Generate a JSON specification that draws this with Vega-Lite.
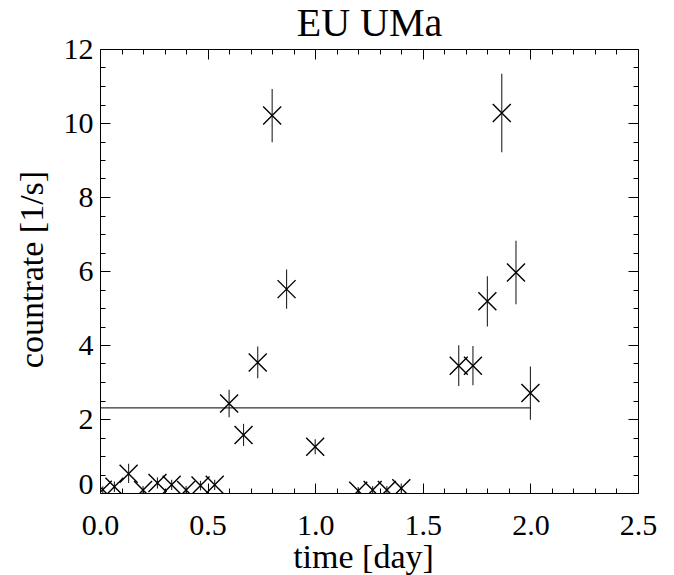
{
  "$schema": "https://vega.github.io/schema/vega-lite/v6.json",
  "width": 538,
  "height": 444,
  "autosize": {"type": "none"},
  "padding": {"left": 100, "top": 49, "right": 36, "bottom": 82},
  "background": "white",
  "config": {
    "view": {"stroke": "black", "strokeWidth": 1},
    "axis": {"grid": false, "domain": false, "labelFont": "Liberation Serif", "titleFont": "Liberation Serif", "labelColor": "black", "titleColor": "black", "tickColor": "black", "tickWidth": 1, "labelOverlap": false, "labelFlush": false, "titleFontWeight": "normal"}
  },
  "datasets": {
    "obs": [
      {"t": 0.013, "rate": 0.09, "lo": 0.0, "hi": 0.18},
      {"t": 0.067, "rate": 0.17, "lo": 0.03, "hi": 0.31},
      {"t": 0.133, "rate": 0.52, "lo": 0.27, "hi": 0.79},
      {"t": 0.2, "rate": 0.08, "lo": -0.03, "hi": 0.19},
      {"t": 0.267, "rate": 0.27, "lo": 0.12, "hi": 0.42},
      {"t": 0.333, "rate": 0.22, "lo": 0.08, "hi": 0.36},
      {"t": 0.4, "rate": 0.08, "lo": -0.03, "hi": 0.19},
      {"t": 0.467, "rate": 0.2, "lo": 0.07, "hi": 0.33},
      {"t": 0.533, "rate": 0.22, "lo": 0.08, "hi": 0.36},
      {"t": 0.6, "rate": 2.42, "lo": 2.05, "hi": 2.79},
      {"t": 0.667, "rate": 1.57, "lo": 1.27, "hi": 1.87},
      {"t": 0.733, "rate": 3.53, "lo": 3.1, "hi": 3.96},
      {"t": 0.8, "rate": 10.2, "lo": 9.48, "hi": 10.92},
      {"t": 0.867, "rate": 5.51, "lo": 4.98, "hi": 6.04},
      {"t": 1.0, "rate": 1.25, "lo": 1.05, "hi": 1.45},
      {"t": 1.2, "rate": 0.06, "lo": -0.04, "hi": 0.16},
      {"t": 1.267, "rate": 0.08, "lo": -0.03, "hi": 0.19},
      {"t": 1.333, "rate": 0.08, "lo": -0.03, "hi": 0.19},
      {"t": 1.4, "rate": 0.13, "lo": 0.0, "hi": 0.26},
      {"t": 1.667, "rate": 3.44, "lo": 2.89, "hi": 3.99},
      {"t": 1.733, "rate": 3.44, "lo": 2.91, "hi": 3.97},
      {"t": 1.8, "rate": 5.18, "lo": 4.5, "hi": 5.86},
      {"t": 1.867, "rate": 10.27, "lo": 9.21, "hi": 11.33},
      {"t": 1.933, "rate": 5.96, "lo": 5.1, "hi": 6.82},
      {"t": 2.0, "rate": 2.7, "lo": 1.98, "hi": 3.42}
    ],
    "level": [{"t0": 0.0, "t1": 2.0, "mean": 2.3}]
  },
  "resolve": {"axis": {"x": "independent", "y": "independent"}},
  "layer": [
    {
      "data": {"name": "level"},
      "mark": {"type": "rule", "color": "black", "strokeWidth": 1, "clip": true},
      "encoding": {
        "x": {"field": "t0", "type": "quantitative", "scale": {"domain": [0, 2.5], "nice": false, "zero": false},
          "axis": {"orient": "bottom", "title": null, "labels": false, "ticks": true,
            "values": [0,0.1,0.2,0.3,0.4,0.5,0.6,0.7,0.8,0.9,1,1.1,1.2,1.3,1.4,1.5,1.6,1.7,1.8,1.9,2,2.1,2.2,2.3,2.4,2.5],
            "tickSize": {"condition": {"test": "abs(datum.value*2 - round(datum.value*2)) < 0.001", "value": -10}, "value": -5}}},
        "x2": {"field": "t1"},
        "y": {"field": "mean", "type": "quantitative", "scale": {"domain": [0, 12], "nice": false, "zero": false},
          "axis": {"orient": "left", "title": null, "labels": false, "ticks": true,
            "values": [0,0.5,1,1.5,2,2.5,3,3.5,4,4.5,5,5.5,6,6.5,7,7.5,8,8.5,9,9.5,10,10.5,11,11.5,12],
            "tickSize": {"condition": {"test": "abs(datum.value/2 - round(datum.value/2)) < 0.001", "value": -10}, "value": -5}}}
      }
    },
    {
      "data": {"name": "obs"},
      "mark": {"type": "rule", "color": "#222222", "strokeWidth": 1.1, "clip": true},
      "encoding": {
        "x": {"field": "t", "type": "quantitative", "scale": {"domain": [0, 2.5], "nice": false, "zero": false},
          "axis": {"orient": "top", "title": "EU UMa", "labels": false, "ticks": true,
            "titleFontSize": 40, "titleBaseline": "alphabetic", "titleAlign": "center", "titleX": 269, "titleY": -14,
            "values": [0,0.1,0.2,0.3,0.4,0.5,0.6,0.7,0.8,0.9,1,1.1,1.2,1.3,1.4,1.5,1.6,1.7,1.8,1.9,2,2.1,2.2,2.3,2.4,2.5],
            "tickSize": {"condition": {"test": "abs(datum.value*2 - round(datum.value*2)) < 0.001", "value": -10}, "value": -5}}},
        "y": {"field": "lo", "type": "quantitative", "scale": {"domain": [0, 12], "nice": false, "zero": false},
          "axis": {"orient": "right", "title": null, "labels": false, "ticks": true,
            "values": [0,0.5,1,1.5,2,2.5,3,3.5,4,4.5,5,5.5,6,6.5,7,7.5,8,8.5,9,9.5,10,10.5,11,11.5,12],
            "tickSize": {"condition": {"test": "abs(datum.value/2 - round(datum.value/2)) < 0.001", "value": -10}, "value": -5}}},
        "y2": {"field": "hi"}
      }
    },
    {
      "data": {"name": "obs"},
      "mark": {"type": "point", "shape": "M-1,-1L1,1M-1,1L1,-1", "size": 324, "filled": false, "stroke": "black", "strokeWidth": 1.4, "opacity": 1, "clip": true},
      "encoding": {
        "x": {"field": "t", "type": "quantitative", "scale": {"domain": [0, 2.5], "nice": false, "zero": false},
          "axis": {"orient": "bottom", "title": "time [day]", "ticks": false, "values": [0, 0.5, 1, 1.5, 2, 2.5],
            "format": ".1f", "labelFontSize": 30, "labelBaseline": "alphabetic", "labelPadding": 41,
            "titleFontSize": 34, "titleBaseline": "alphabetic", "titleX": 263, "titleY": 74, "titleAlign": "center"}},
        "y": {"field": "rate", "type": "quantitative", "scale": {"domain": [0, 12], "nice": false, "zero": false},
          "axis": {"orient": "left", "title": "countrate [1/s]", "ticks": false, "values": [0, 2, 4, 6, 8, 10, 12],
            "format": "d", "labelFontSize": 30, "labelPadding": 7, "labelAlign": "right",
            "labelBaseline": {"condition": {"test": "datum.value === 0", "value": "alphabetic"}, "value": "middle"},
            "titleFontSize": 34, "titleAngle": -90, "titleBaseline": "alphabetic", "titleAlign": "center", "titleX": -58, "titleY": 220}}
      }
    }
  ]
}
